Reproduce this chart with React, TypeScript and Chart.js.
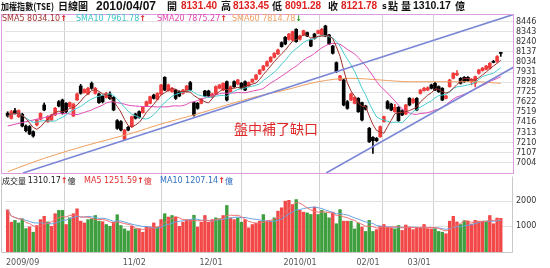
import React, { useEffect, useRef } from 'react';
import { Chart, registerables } from 'chart.js';
Chart.register(...registerables);

// ---------------- DATA ----------------
const opens = [7509,7458,7536,7475,7499,7379,7373,7321,7390,7448,7594,7424,7441,7492,7628,7645,7611,7577,7482,7645,
7788,7720,7707,7816,7713,7707,7686,7672,7707,7672,7434,7424,7243,7366,7373,7502,7526,7516,7584,7611,
7696,7652,7707,7877,7741,7730,7747,7730,7713,7730,7823,7618,7611,7611,7737,7737,7672,7707,7765,7747,
7833,7730,7833,7809,7816,7833,7788,7829,7857,7911,7952,7993,8037,8082,8116,8232,8286,8266,8259,8368,
8266,8310,8334,8259,8320,8327,8310,8402,8310,8197,8027,7850,7850,7628,7645,7611,7662,7618,7584,7355,
7263,7253,7270,7424,7628,7604,7526,7570,7536,7502,7662,7618,7662,7713,7741,7747,7799,7816,7782,7765,
7662,7782,7867,7901,7867,7877,7877,7833,7816,7918,7945,7959,7970,8040,8040,8131.40];
const highs = [7525,7540,7560,7545,7510,7390,7385,7330,7450,7515,7615,7485,7500,7570,7640,7655,7620,7625,7610,7715,
7805,7760,7775,7830,7775,7715,7695,7725,7730,7680,7445,7435,7345,7375,7480,7510,7535,7578,7635,7685,
7705,7720,7805,7884,7808,7775,7755,7740,7755,7795,7835,7625,7620,7660,7745,7745,7715,7790,7805,7822,
7840,7790,7840,7857,7825,7840,7830,7862,7908,7958,8000,8045,8090,8130,8165,8240,8295,8328,8350,8375,
8308,8360,8340,8268,8328,8360,8378,8410,8318,8205,8035,7898,7858,7640,7715,7680,7670,7625,7592,7365,
7270,7262,7380,7482,7640,7612,7600,7578,7545,7600,7670,7665,7670,7755,7775,7780,7808,7825,7790,7772,
7692,7858,7925,7945,7875,7885,7885,7865,7890,7960,7980,8000,8028,8050,8100,8133.45];
const lows = [7470,7450,7500,7465,7370,7320,7290,7265,7380,7440,7535,7415,7435,7485,7575,7500,7515,7570,7475,7640,
7705,7715,7700,7755,7705,7610,7615,7665,7650,7535,7345,7330,7235,7330,7365,7450,7460,7510,7578,7605,
7655,7645,7700,7740,7735,7725,7650,7678,7705,7725,7740,7480,7550,7605,7680,7675,7665,7700,7760,7740,
7635,7725,7775,7800,7758,7740,7780,7822,7850,7905,7945,7988,8030,8075,8110,8185,8210,8258,8250,8235,
8258,8302,8292,8190,8268,8320,8302,8292,8210,8115,7925,7842,7585,7550,7638,7605,7518,7432,7542,7210,
7100,7220,7262,7418,7552,7535,7520,7425,7485,7495,7585,7610,7535,7705,7735,7740,7758,7740,7722,7638,
7655,7775,7860,7895,7808,7825,7835,7800,7780,7910,7940,7952,7960,8025,8030,8091.28];
const closes = [7482,7526,7509,7536,7379,7332,7298,7277,7441,7509,7543,7475,7492,7560,7584,7509,7526,7618,7604,7707,
7713,7754,7765,7765,7765,7618,7628,7713,7659,7543,7355,7338,7338,7338,7475,7458,7468,7570,7628,7679,
7662,7713,7799,7747,7799,7765,7662,7686,7747,7788,7747,7492,7560,7652,7686,7686,7707,7782,7799,7816,
7645,7782,7782,7850,7765,7747,7823,7857,7901,7952,7993,8037,8082,8123,8157,8191,8218,8320,8344,8242,
8300,8354,8300,8197,8276,8354,8368,8300,8218,8123,7935,7891,7594,7560,7707,7672,7526,7441,7550,7219,
7229,7229,7373,7475,7560,7543,7570,7434,7492,7594,7594,7652,7543,7747,7765,7771,7765,7747,7730,7645,
7686,7850,7918,7918,7816,7833,7843,7857,7884,7952,7970,7993,8020,8030,8090,8121.78];
const volumes = [1640,1160,1230,1130,1290,910,980,770,1030,1260,1390,1170,1000,1490,1620,1620,1070,1330,1490,1680,
1200,1130,1260,1290,1420,1200,1180,1070,1000,1160,1450,1030,900,820,1000,900,900,770,970,970,
1130,970,1260,1490,1360,1420,1360,1000,1160,1260,1260,1430,970,1160,1420,1160,1260,1330,1290,1420,
1810,1330,1260,1330,1160,1260,940,1070,1130,1200,1455,1200,1200,1330,1590,1720,1980,2010,1850,2040,
1620,1550,1520,1460,1750,1460,1620,1520,1330,1550,1100,1650,1200,1200,1200,900,1130,970,800,1230,
800,870,1000,1070,970,940,900,1030,840,1050,970,870,960,940,1070,910,900,910,800,770,
710,1200,1390,1170,1070,1220,1200,1090,1230,1200,1200,1200,1420,1100,1320,1310.17];
// R = red (up) volume bar, G = green (down) volume bar
const volDir = 'RRGGGGRGRR' + 'RGRRGGRGRR' + 'RRGGGGRGGR' + 'GGGGRGRRRR' + 'RGRGRGRRRR' + 'RGRRRRRGGR' +
  'GRRGGRRRRR' + 'GRRGRRRRRG' + 'RRGGRGGGGR' + 'GGRRGGGRGG' + 'GRRRRRGGRR' + 'RRRRRRRGGG' + 'RRRRGGRRRR' + 'RGRRRR';

const xTickPos = [-0.45, 31.5, 52.5, 75.5, 95.5, 109.5];
const xTickLabels = ['2009/09', '11/02', '12/01', '2010/01', '02/01', '03/01'];
const priceTicks = [7004, 7107, 7210, 7313, 7416, 7519, 7622, 7725, 7828, 7931, 8034, 8137, 8240, 8343, 8446];
const volTicks = [1000, 2000];

// SMA60 (history before the window is not visible)
const sma60Idx = [0, 10, 22, 34, 42, 51, 60, 68, 76, 85, 94, 102, 110, 128, 135];
const sma60Val = [6912, 7049, 7185, 7305, 7400, 7492, 7594, 7679, 7747, 7832, 7867, 7850, 7832, 7832, 7815];
// start of SMA20 (before 20 closes exist)
const sma20SeedIdx = [0, 5, 10, 15];
const sma20SeedVal = [7379, 7424, 7465, 7509];

// hand-drawn trend lines: [index, price]
const trendUpper = [[4.2, 6899], [138.9, 8525]];
const trendLower = [[87.2, 6899], [138.6, 7983]];

// ---------------- helpers ----------------
function sma(arr: number[], n: number, from = 0) {
  return arr.map((_, i) => {
    if (i < from) return null;
    const s = Math.max(0, i - n + 1);
    let sum = 0;
    for (let k = s; k <= i; k++) sum += arr[k];
    return sum / (i - s + 1);
  });
}
const pts = (vals: (number | null)[]) => vals.map((v, i) => ({ x: i, y: v })).filter(p => p.y !== null);

const RED = '#f03c3c';
const VRED = '#f24848';
const VGREEN = '#3f9f3f';
const CJK = '"Noto Sans CJK TC"';
const LAT = '"DejaVu Sans"';

function drawRow(ctx: any, y: number, items: any[]) {
  let cx = 0;
  ctx.textBaseline = 'middle';
  ctx.textAlign = 'left';
  for (const it of items) {
    if (it.x !== undefined) cx = it.x;
    ctx.font = it.f;
    ctx.fillStyle = it.c;
    const w = ctx.measureText(it.t).width;
    if (it.w && w > it.w) {
      ctx.fillText(it.t, cx, y, it.w);
      cx += it.w;
    } else {
      ctx.fillText(it.t, cx, y);
      cx += w;
    }
  }
}

const overlayPlugin = {
  id: 'overlay',
  beforeDatasetsDraw(chart: any) {
    const { ctx, chartArea } = chart;
    const yv = chart.scales.yv;
    ctx.save();
    ctx.strokeStyle = '#e2e2e2';
    ctx.lineWidth = 1;
    for (const v of volTicks) {
      const y = Math.round(yv.getPixelForValue(v)) + 0.5;
      ctx.beginPath();
      ctx.moveTo(chartArea.left, y);
      ctx.lineTo(chartArea.right, y);
      ctx.stroke();
    }
    ctx.restore();
  },
  afterDraw(chart: any) {
    const { ctx, chartArea } = chart;
    const y = chart.scales.y;
    const yv = chart.scales.yv;
    ctx.save();
    const panelBottom = Math.round(y.getPixelForValue(6899)) + 0.5;
    // volume panel frame
    ctx.strokeStyle = '#c8c8c8';
    ctx.lineWidth = 1;
    ctx.beginPath();
    ctx.moveTo(1.5, panelBottom + 3);
    ctx.lineTo(1.5, chartArea.bottom + 0.5);
    ctx.lineTo(chartArea.right - 0.5, chartArea.bottom + 0.5);
    ctx.lineTo(chartArea.right - 0.5, panelBottom + 3);
    ctx.stroke();
    // main panel frame
    ctx.strokeStyle = '#dc9ee0';
    ctx.strokeRect(1.5, chartArea.top + 0.5, chartArea.right - 1, panelBottom - chartArea.top - 0.5);

    // volume tick labels
    ctx.font = `8px ${LAT}`;
    ctx.fillStyle = '#333';
    ctx.textBaseline = 'middle';
    ctx.textAlign = 'left';
    for (const v of volTicks) ctx.fillText(String(v), chartArea.right + 3, yv.getPixelForValue(v));

    // header
    const hb = `bold 10px ${CJK}`;
    const num = `bold 10px "Liberation Sans"`;
    drawRow(ctx, 6.5, [
      { t: '加權指數(TSE)', x: 1, w: 53, f: `bold 9.5px ${CJK}`, c: '#111' },
      { t: '日線圖', x: 58, w: 30, f: hb, c: '#111' },
      { t: '2010/04/07', x: 96, w: 60, f: `bold 12px "Liberation Sans"`, c: '#111' },
      { t: '開', x: 167, f: hb, c: '#111' },
      { t: '8131.40', x: 181, w: 38, f: num, c: '#e02020' },
      { t: '高', x: 221, f: hb, c: '#111' },
      { t: '8133.45', x: 233, w: 38, f: num, c: '#e02020' },
      { t: '低', x: 272, f: hb, c: '#111' },
      { t: '8091.28', x: 285, w: 39, f: num, c: '#e02020' },
      { t: '收', x: 328, f: hb, c: '#111' },
      { t: '8121.78', x: 341, w: 39, f: num, c: '#e02020' },
      { t: 's', x: 382, f: `bold 8px ${LAT}`, c: '#111' },
      { t: '點', x: 388, f: hb, c: '#111' },
      { t: '量', x: 401, f: hb, c: '#111' },
      { t: '1310.17', x: 413, w: 40, f: `bold 10.5px "Liberation Sans"`, c: '#111' },
      { t: '億', x: 455, f: hb, c: '#111' },
    ]);

    // SMA legend
    const lf = `8px ${LAT}`;
    const ar = `bold 8px ${LAT}`;
    const ly = chartArea.top + 5;
    drawRow(ctx, ly, [
      { t: 'SMA5 8034.10', x: 2, f: lf, c: '#a0302c' }, { t: '↑', f: ar, c: '#e02020' },
      { t: 'SMA10 7961.78', x: 76, f: lf, c: '#3cc4c8' }, { t: '↑', f: ar, c: '#e02020' },
      { t: 'SMA20 7875.27', x: 157, f: lf, c: '#e048b0' }, { t: '↑', f: ar, c: '#e02020' },
      { t: 'SMA60 7814.78', x: 232, f: lf, c: '#f0a060' }, { t: '↓', f: ar, c: '#20a020' },
    ]);

    // volume legend
    const vy = panelBottom + 7;
    drawRow(ctx, vy, [
      { t: '成交量 ', x: 2, f: `8px ${CJK}`, c: '#222' },
      { t: '1310.17', f: lf, c: '#222' }, { t: '↑', f: ar, c: '#e02020' }, { t: '億', f: `8px ${CJK}`, c: '#222' },
      { t: 'MA5 1251.59', x: 84, f: lf, c: '#e03030' }, { t: '↑', f: ar, c: '#e02020' }, { t: '億', f: `8px ${CJK}`, c: '#e03030' },
      { t: 'MA10 1207.14', x: 160, f: lf, c: '#2f6fc0' }, { t: '↑', f: ar, c: '#e02020' }, { t: '億', f: `8px ${CJK}`, c: '#2f6fc0' },
    ]);

    // annotation
    ctx.font = `14px ${CJK}`;
    ctx.fillStyle = '#e02828';
    ctx.textBaseline = 'middle';
    ctx.fillText('盤中補了缺口', 234, 129);
    ctx.restore();
  },
};

export default function App() {
  const ref = useRef<HTMLCanvasElement>(null);
  useEffect(() => {
    document.body.style.margin = '0';
    const up = closes.map((c, i) => c >= opens[i]);
    const candleColors = up.map(u => (u ? RED : '#000000'));
    const bodies = closes.map((c, i) => ({ x: i, y: [opens[i], c] }));
    const wicks = closes.map((_, i) => ({ x: i, y: [lows[i], highs[i]] }));
    const vols = volumes.map((v, i) => ({ x: i, y: v }));
    const volColors = volumes.map((_, i) => (volDir[i] === 'G' ? VGREEN : VRED));

    const sma5 = pts(sma(closes, 5));
    const sma10 = pts(sma(closes, 10));
    const sma20 = [
      ...sma20SeedIdx.map((x, k) => ({ x, y: sma20SeedVal[k] })),
      ...pts(sma(closes, 20, 19)),
    ];
    const sma60 = sma60Idx.map((x, k) => ({ x, y: sma60Val[k] }));
    const vma5 = pts(sma(volumes, 5));
    const vma10 = pts(sma(volumes, 10));

    const line = (data: any[], color: string, extra: any = {}) => ({
      type: 'line', data, borderColor: color, borderWidth: 1, pointRadius: 0,
      fill: false, yAxisID: 'y', xAxisID: 'x', ...extra,
    });
    const trendClip = { left: 0, top: 0, right: 0, bottom: -79 };

    const chart = new Chart(ref.current as HTMLCanvasElement, {
      type: 'bar',
      data: {
        datasets: [
          line(trendUpper.map(([x, y]) => ({ x, y })), '#7a86d6', { borderWidth: 1.6, clip: trendClip }),
          line(trendLower.map(([x, y]) => ({ x, y })), '#7a86d6', { borderWidth: 1.6, clip: trendClip }),
          line(sma5, '#a0302c'),
          line(sma10, '#46cdd0'),
          line(sma20, '#e04bb5', { cubicInterpolationMode: 'monotone' }),
          line(sma60, '#f0a060', { cubicInterpolationMode: 'monotone' }),
          line(vma5, '#f07070', { yAxisID: 'yv' }),
          line(vma10, '#68a4e0', { yAxisID: 'yv' }),
          {
            type: 'bar', data: bodies, backgroundColor: candleColors, borderWidth: 0,
            barThickness: 3, grouped: false, minBarLength: 1, yAxisID: 'y', xAxisID: 'x',
          },
          {
            type: 'bar', data: wicks, backgroundColor: candleColors, borderWidth: 0,
            barThickness: 1, grouped: false, yAxisID: 'y', xAxisID: 'x',
          },
          {
            type: 'bar', data: vols, backgroundColor: volColors, borderWidth: 0,
            barThickness: 2.7, grouped: false, yAxisID: 'yv', xAxisID: 'x',
          },
        ] as any,
      },
      options: {
        animation: false,
        responsive: false,
        devicePixelRatio: 1,
        events: [],
        layout: { padding: { top: 14, left: 2, right: 0, bottom: 0 } },
        plugins: { legend: { display: false }, tooltip: { enabled: false } },
        scales: {
          x: {
            type: 'linear', min: -0.73, max: 138.35, offset: false,
            afterBuildTicks: (s: any) => { s.ticks = xTickPos.map(v => ({ value: v })); },
            afterFit: (s: any) => { s.height = 16; },
            ticks: {
              callback: (_v: any, i: number) => xTickLabels[i],
              align: 'start', padding: 6, autoSkip: false, maxRotation: 0,
              font: { family: 'DejaVu Sans', size: 8 }, color: '#555',
            },
            grid: { color: '#d2d2d2', drawTicks: false },
            border: { display: false },
          },
          y: {
            type: 'linear', position: 'right', min: 6090.7, max: 8524.7,
            afterBuildTicks: (s: any) => { s.ticks = priceTicks.map(v => ({ value: v })); },
            afterFit: (s: any) => { s.width = 37; },
            ticks: {
              callback: (v: any) => String(v), padding: 3, autoSkip: false,
              font: { family: 'DejaVu Sans', size: 8 }, color: '#333',
            },
            grid: { color: '#e2e2e2', drawTicks: false },
            border: { display: false },
          },
          yv: { type: 'linear', display: false, min: 0, max: 9261 },
        } as any,
      },
      plugins: [overlayPlugin],
    } as any);
    return () => chart.destroy();
  }, []);
  return (
    <div style={{ width: 550, height: 268, background: '#fff' }}>
      <canvas ref={ref} width={550} height={268} style={{ display: 'block', width: 550, height: 268 }} />
    </div>
  );
}
